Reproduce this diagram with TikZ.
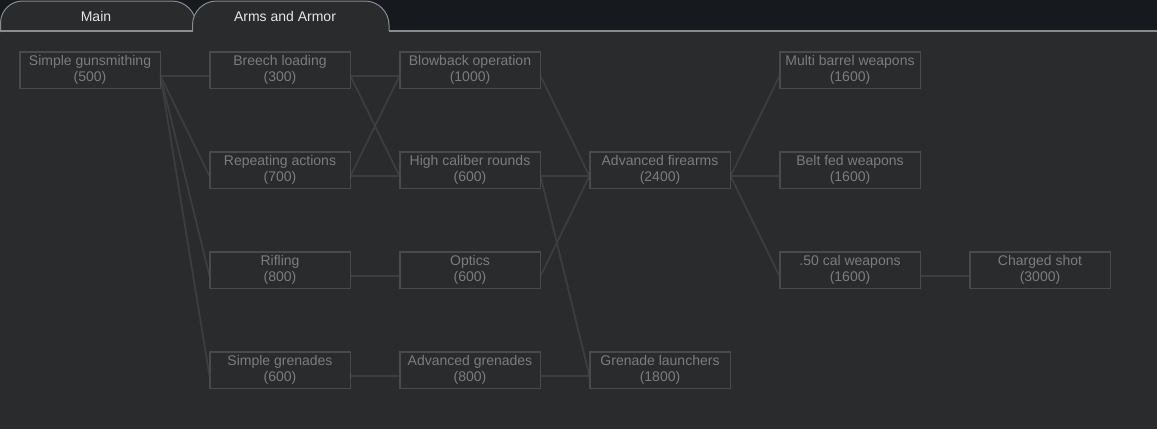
\documentclass[tikz,border=0pt]{standalone}
\usepackage{fontspec}
\setmainfont{Liberation Sans}
\definecolor{topbar}{HTML}{16191E}
\definecolor{panel}{HTML}{2A2B2D}
\definecolor{tabedge}{HTML}{8C8C8C}
\definecolor{tabtext}{HTML}{E6E6E6}
\definecolor{boxedge}{HTML}{4A4A4B}
\definecolor{boxtext}{HTML}{7C7C7C}
\definecolor{wire}{HTML}{3C3D3F}
\tikzset{
  tech/.style={draw=boxedge, line width=1pt, fill=panel, text=boxtext,
    minimum width=140pt, minimum height=36pt, inner sep=0pt, align=center,
    font=\fontsize{14}{16}\selectfont},
  link/.style={draw=wire, line width=1.8pt},
  tabshape/.style={draw=tabedge, line width=1pt, fill=panel},
  tablabel/.style={text=tabtext, font=\fontsize{14}{16}\selectfont, inner sep=0pt}
}
\begin{document}
\begin{tikzpicture}[x=1pt,y=-1pt]
\useasboundingbox (0,0) rectangle (1157,429);
\fill[panel] (0,0) rectangle (1157,429);
\fill[topbar] (0,0) rectangle (1157,31);
% tabs
\path[tabshape] (0.5,32) -- (0.5,23) .. controls (0.5,10.9) and (10.4,1) .. (22.5,1)
  -- (172,1) .. controls (185.2,1) and (196,11.8) .. (196,25) -- (196,32);
\path[tabshape] (192.5,32) -- (192.5,25) .. controls (192.5,11.8) and (203.3,1) .. (216.5,1)
  -- (365,1) .. controls (378.2,1) and (389,11.8) .. (389,25) -- (389,32);
\fill[panel] (193,31) rectangle (388.5,33);
\draw[tabedge, line width=1.5pt] (0,31) -- (192.5,31);
\draw[tabedge, line width=1.5pt] (389,31) -- (1157,31);
\node[tablabel] (tabmain) at (96,16) {Main};
\node[tablabel] (tabarms) at (285,16) {Arms and Armor};
% nodes
\node[tech] (sg) at (90,70) {Simple gunsmithing\\(500)};
\node[tech] (bl) at (280,70) {Breech loading\\(300)};
\node[tech] (ra) at (280,170) {Repeating actions\\(700)};
\node[tech] (rf) at (280,270) {Rifling\\(800)};
\node[tech] (sgr) at (280,370) {Simple grenades\\(600)};
\node[tech] (bb) at (470,70) {Blowback operation\\(1000)};
\node[tech] (hc) at (470,170) {High caliber rounds\\(600)};
\node[tech] (op) at (470,270) {Optics\\(600)};
\node[tech] (ag) at (470,370) {Advanced grenades\\(800)};
\node[tech] (af) at (660,170) {Advanced firearms\\(2400)};
\node[tech] (gl) at (660,370) {Grenade launchers\\(1800)};
\node[tech] (mb) at (850,70) {Multi barrel weapons\\(1600)};
\node[tech] (bf) at (850,170) {Belt fed weapons\\(1600)};
\node[tech] (cal) at (850,270) {.50 cal weapons\\(1600)};
\node[tech] (cs) at (1040,270) {Charged shot\\(3000)};
% links
\foreach \a/\b in {sg/bl, sg/ra, sg/rf, sg/sgr, bl/bb, bl/hc, ra/bb, ra/hc, rf/op, sgr/ag,
  bb/af, hc/af, hc/gl, op/af, ag/gl, af/mb, af/bf, af/cal, cal/cs}
  \draw[link] ([yshift=-6pt]\a.east) -- ([yshift=-6pt]\b.west);
% redraw box outlines on top
\foreach \n in {sg,bl,ra,rf,sgr,bb,hc,op,ag,af,gl,mb,bf,cal,cs}
  \draw[boxedge, line width=1pt] (\n.north west) rectangle (\n.south east);
\end{tikzpicture}
\end{document}
